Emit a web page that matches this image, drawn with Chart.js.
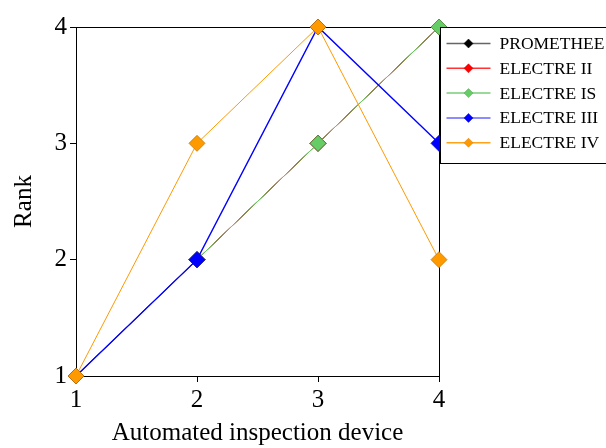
<!DOCTYPE html>
<html>
<head>
<meta charset="utf-8">
<script src="https://cdn.jsdelivr.net/npm/chart.js@4/dist/chart.umd.min.js"></script>
<style>
  html, body { margin: 0; padding: 0; background: #fff; }
</style>
</head>
<body>
<canvas id="rankChart" width="606" height="448"></canvas>
<script>
// Data
const devices = [1, 2, 3, 4];
const yTicks = [1, 2, 3, 4];
const seriesNames = ['PROMETHEE', 'ELECTRE II', 'ELECTRE IS', 'ELECTRE III', 'ELECTRE IV'];
const promethee = [1, 2, 3, 4];
const electreII = [1, 2, 3, 4];
const electreIS = [1, 2, 3, 4];
const electreIII = [1, 2, 4, 3];
const electreIV = [1, 3, 4, 2];

const seriesValues = [promethee, electreII, electreIS, electreIII, electreIV];
const lineColors = ['#000000', '#ff0000', '#66cc66', '#0000ff', '#ff9900'];
const edgeColors = ['#000000', '#cc0000', '#4f9f4f', '#0000cc', '#c77700'];
const legendLineColors = ['#666666', '#ff3333', '#77cc77', '#6666ff', '#ffa31a'];

const serif = '"Liberation Serif", "Times New Roman", serif';

// Box around the plot area (top and right edges too)
const framePlugin = {
    id: 'frame',
    beforeDatasetsDraw(chart) {
        const { ctx, chartArea: a } = chart;
        ctx.save();
        ctx.strokeStyle = '#000';
        ctx.lineWidth = 1;
        ctx.strokeRect(Math.round(a.left) + 0.5, Math.round(a.top) + 0.5,
            Math.round(a.right - a.left), Math.round(a.bottom - a.top));
        ctx.restore();
    }
};

// Legend box sitting on the right edge of the plot
const legendPlugin = {
    id: 'boxLegend',
    afterDraw(chart) {
        const { ctx, chartArea: a } = chart;
        const x0 = Math.round(a.right) + 1.5;
        const y0 = Math.round(a.top) + 0.5;
        const rowH = 24.8;
        ctx.save();
        ctx.fillStyle = '#fff';
        ctx.fillRect(x0, y0, 200, 136);
        ctx.strokeStyle = '#000';
        ctx.lineWidth = 1;
        ctx.strokeRect(x0, y0, 200, 136);
        ctx.font = '17.5px ' + serif;
        ctx.textBaseline = 'middle';
        seriesNames.forEach((name, i) => {
            const y = y0 + 16 + i * rowH;
            ctx.strokeStyle = legendLineColors[i];
            ctx.lineWidth = 1.5;
            ctx.beginPath();
            ctx.moveTo(x0 + 6, y);
            ctx.lineTo(x0 + 50, y);
            ctx.stroke();
            ctx.fillStyle = lineColors[i];
            ctx.strokeStyle = edgeColors[i];
            ctx.lineWidth = 0.5;
            ctx.beginPath();
            ctx.moveTo(x0 + 28, y - 4.5);
            ctx.lineTo(x0 + 32.5, y);
            ctx.lineTo(x0 + 28, y + 4.5);
            ctx.lineTo(x0 + 23.5, y);
            ctx.closePath();
            ctx.fill();
            ctx.stroke();
            ctx.fillStyle = '#000';
            ctx.fillText(name, x0 + 59, y + 1);
        });
        ctx.restore();
    }
};

const datasets = seriesNames.map((name, i) => ({
    label: name,
    data: devices.map((d, j) => ({ x: d, y: seriesValues[i][j] })),
    borderColor: lineColors[i],
    backgroundColor: lineColors[i],
    pointBackgroundColor: lineColors[i],
    pointBorderColor: edgeColors[i],
    pointBorderWidth: 0.8,
    pointStyle: 'rectRot',
    pointRadius: 8,
    borderWidth: i === 3 ? 1.4 : 1,
    tension: 0,
    clip: false,
    order: seriesNames.length - i
}));

const ctx = document.getElementById('rankChart').getContext('2d');
new Chart(ctx, {
    type: 'line',
    data: { datasets: datasets },
    options: {
        responsive: false,
        animation: false,
        layout: { padding: { top: 27, right: 167, left: 0, bottom: 0 } },
        plugins: { legend: { display: false }, tooltip: { enabled: false } },
        scales: {
            x: {
                type: 'linear',
                min: 1, max: 4,
                afterBuildTicks: s => { s.ticks = devices.map(v => ({ value: v })); },
                afterFit: s => { s.height = 72; },
                grid: { drawOnChartArea: false, tickLength: 6, color: '#000' },
                border: { display: true, color: '#000' },
                ticks: { color: '#000', font: { family: serif, size: 25 }, padding: 3, maxRotation: 0 },
                title: { display: true, text: 'Automated inspection device', color: '#000',
                         font: { family: serif, size: 25 }, padding: { top: 3, bottom: 0 } }
            },
            y: {
                type: 'linear',
                min: 1, max: 4,
                afterBuildTicks: s => { s.ticks = yTicks.map(v => ({ value: v })); },
                afterFit: s => { s.width = 76; },
                grid: { drawOnChartArea: false, tickLength: 6, color: '#000' },
                border: { display: true, color: '#000' },
                ticks: { color: '#000', font: { family: serif, size: 25 }, padding: 3 },
                title: { display: true, text: 'Rank', color: '#000',
                         font: { family: serif, size: 25 }, padding: { top: 9, bottom: 0 } }
            }
        }
    },
    plugins: [framePlugin, legendPlugin]
});
</script>
</body>
</html>
